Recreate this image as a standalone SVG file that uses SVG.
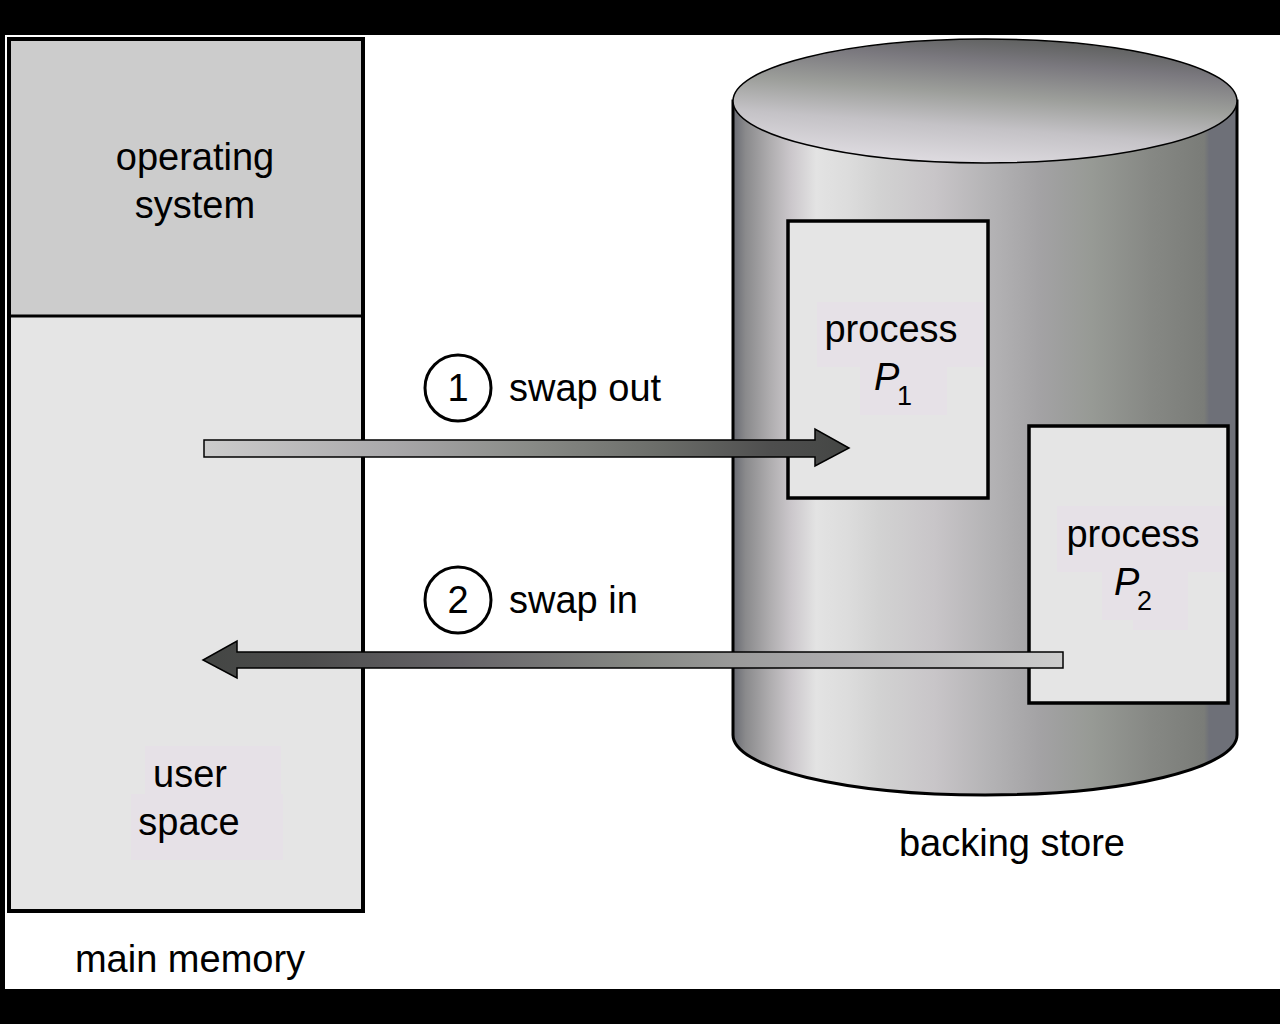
<svg xmlns="http://www.w3.org/2000/svg" width="1280" height="1024" viewBox="0 0 1280 1024">
  <style>
    .t { font-family: "Liberation Sans", Arial, Helvetica, sans-serif; font-size: 38px; fill: #000; }
    .c { text-anchor: middle; }
    .it { font-style: italic; }
    .sub { font-size: 27px; }
    .box { stroke: #000; stroke-width: 3.5; }
    .lbg { fill: #e6e1e7; }
  </style>
  <defs>
    <linearGradient id="body" x1="733" y1="0" x2="1237" y2="0" gradientUnits="userSpaceOnUse">
      <stop offset="0" stop-color="#686a72"/>
      <stop offset="0.025" stop-color="#8a8a8c"/>
      <stop offset="0.075" stop-color="#b0aeb0"/>
      <stop offset="0.115" stop-color="#cbc7cb"/>
      <stop offset="0.165" stop-color="#e3e3e3"/>
      <stop offset="0.23" stop-color="#dcdcdc"/>
      <stop offset="0.29" stop-color="#d2d2d2"/>
      <stop offset="0.40" stop-color="#c8c5c8"/>
      <stop offset="0.51" stop-color="#b4b3b5"/>
      <stop offset="0.61" stop-color="#a3a2a4"/>
      <stop offset="0.71" stop-color="#979a95"/>
      <stop offset="0.83" stop-color="#868884"/>
      <stop offset="0.935" stop-color="#7a7c78"/>
      <stop offset="0.945" stop-color="#6e7078"/>
      <stop offset="1" stop-color="#6e7078"/>
    </linearGradient>
    <linearGradient id="top" x1="0.35" y1="1" x2="0.65" y2="0">
      <stop offset="0" stop-color="#e0dde2"/>
      <stop offset="0.3" stop-color="#c4c2c6"/>
      <stop offset="0.55" stop-color="#9c9e9a"/>
      <stop offset="0.8" stop-color="#7a787e"/>
      <stop offset="1" stop-color="#5c5e5c"/>
    </linearGradient>
    <linearGradient id="out" x1="204" y1="0" x2="849" y2="0" gradientUnits="userSpaceOnUse">
      <stop offset="0" stop-color="#cccccc"/>
      <stop offset="0.3" stop-color="#a8a7a9"/>
      <stop offset="0.5" stop-color="#8a8c88"/>
      <stop offset="0.7" stop-color="#6c6e6a"/>
      <stop offset="0.88" stop-color="#4e4e4e"/>
      <stop offset="1" stop-color="#444644"/>
    </linearGradient>
    <linearGradient id="in" x1="1063" y1="0" x2="203" y2="0" gradientUnits="userSpaceOnUse">
      <stop offset="0" stop-color="#cccccc"/>
      <stop offset="0.3" stop-color="#a8a7a9"/>
      <stop offset="0.5" stop-color="#858783"/>
      <stop offset="0.7" stop-color="#666468"/>
      <stop offset="0.88" stop-color="#4c4c4c"/>
      <stop offset="1" stop-color="#444644"/>
    </linearGradient>
  </defs>

  <rect x="0" y="0" width="1280" height="1024" fill="#000"/>
  <rect x="5" y="35" width="1275" height="954" fill="#fff"/>

  <g id="main-memory">
    <rect id="os-region" x="9" y="39" width="354" height="277" fill="#cccccc"/>
    <rect id="user-space" x="9" y="316" width="354" height="595" fill="#e5e5e5"/>
    <rect x="9" y="39" width="354" height="872" fill="none" stroke="#000" stroke-width="4"/>
    <line x1="9" y1="316" x2="363" y2="316" stroke="#000" stroke-width="3"/>
    <text class="t c" x="195" y="170">operating</text>
    <text class="t c" x="195" y="218">system</text>
    <rect class="lbg" x="145" y="746" width="136" height="48"/>
    <rect class="lbg" x="131" y="794" width="152" height="66"/>
    <text class="t c" x="190" y="787">user</text>
    <text class="t c" x="189" y="835">space</text>
    <text class="t c" x="190" y="972">main memory</text>
  </g>

  <g id="backing-store">
    <path d="M733,101 L733,735 A252,60 0 0 0 1237,735 L1237,101 Z" fill="url(#body)" stroke="#000" stroke-width="3"/>
    <ellipse cx="985" cy="101" rx="252" ry="62" fill="url(#top)" stroke="#000" stroke-width="1.5"/>
    <text class="t c" x="1012" y="856">backing store</text>
  </g>

  <g id="process-p1">
    <rect class="box" x="788" y="221" width="200" height="277" fill="#e5e5e5"/>
    <rect class="lbg" x="817" y="302" width="167" height="65"/>
    <rect class="lbg" x="860" y="367" width="87" height="48"/>
    <text class="t c" x="891" y="342">process</text>
    <text class="t it" x="874" y="390">P</text>
    <text class="t sub" x="897" y="405">1</text>
  </g>

  <g id="process-p2">
    <rect class="box" x="1029" y="426" width="199" height="277" fill="#e5e5e5"/>
    <rect class="lbg" x="1057" y="506" width="168" height="66"/>
    <rect class="lbg" x="1102" y="572" width="86" height="48"/>
    <rect class="lbg" x="1133" y="620" width="55" height="10"/>
    <text class="t c" x="1133" y="547">process</text>
    <text class="t it" x="1114" y="595">P</text>
    <text class="t sub" x="1137" y="610">2</text>
  </g>

  <g id="connectors">
    <polygon points="204,440 815,440 815,429 849,448 815,466 815,457 204,457" fill="url(#out)" stroke="#000" stroke-width="1.5" stroke-linejoin="miter"/>
    <polygon points="1063,652 237,652 237,641 203,660 237,678 237,668 1063,668" fill="url(#in)" stroke="#000" stroke-width="1.5" stroke-linejoin="miter"/>
  </g>

  <g id="step-1">
    <circle cx="458" cy="388" r="33" fill="#fff" stroke="#000" stroke-width="3"/>
    <text class="t c" x="458" y="401">1</text>
    <text class="t" x="509" y="401">swap out</text>
  </g>
  <g id="step-2">
    <circle cx="458" cy="600" r="33" fill="#fff" stroke="#000" stroke-width="3"/>
    <text class="t c" x="458" y="613">2</text>
    <text class="t" x="509" y="613">swap in</text>
  </g>
</svg>
